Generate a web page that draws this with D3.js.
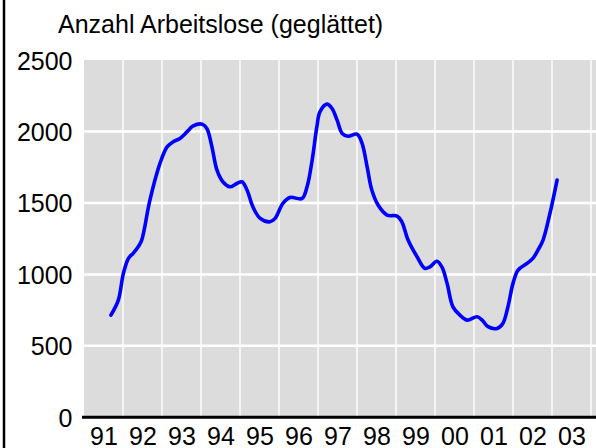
<!DOCTYPE html>
<html>
<head>
<meta charset="utf-8">
<script src="https://cdn.jsdelivr.net/npm/d3@7"></script>
<style>
  html, body { margin: 0; padding: 0; background: #fff; }
  svg { display: block; font-family: "Liberation Sans", Arial, sans-serif; }
</style>
</head>
<body>
<svg id="chart" width="596" height="448"></svg>
<script>
// ---- data ----
const title = "Anzahl Arbeitslose (geglättet)";
const yearLabels = ["91","92","93","94","95","96","97","98","99","00","01","02","03"];
const yearStarts = [1991,1992,1993,1994,1995,1996,1997,1998,1999,2000,2001,2002,2003];
const yTicks = [0, 500, 1000, 1500, 2000, 2500];
const times = [
  1991.69, 1991.88, 1992.01, 1992.14, 1992.26, 1992.39, 1992.48, 1992.69, 1992.95,
  1993.13, 1993.28, 1993.46, 1993.64, 1993.79, 1994.03, 1994.15, 1994.28, 1994.41,
  1994.56, 1994.74, 1994.92, 1995.05, 1995.18, 1995.33, 1995.51, 1995.77, 1995.90,
  1996.10, 1996.28, 1996.59, 1996.72, 1996.85, 1996.97, 1997.05, 1997.23, 1997.36,
  1997.49, 1997.62, 1997.77, 1998.00, 1998.13, 1998.26, 1998.38, 1998.54, 1998.77,
  1999.03, 1999.15, 1999.31, 1999.54, 1999.74, 1999.87, 2000.05, 2000.18, 2000.31,
  2000.46, 2000.64, 2000.82, 2001.08, 2001.21, 2001.36, 2001.59, 2001.74, 2001.87,
  2002.00, 2002.13, 2002.36, 2002.51, 2002.64, 2002.77, 2002.95, 2003.13
];
const values = [
  715, 820, 1007, 1112, 1147, 1193, 1240, 1520, 1778,
  1892, 1927, 1951, 1997, 2037, 2051, 2021, 1892, 1729,
  1648, 1613, 1636, 1648, 1590, 1473, 1394, 1368, 1392,
  1497, 1538, 1531, 1613, 1799, 2032, 2137, 2191, 2161,
  2079, 1986, 1967, 1981, 1916, 1752, 1590, 1485, 1415,
  1408, 1368, 1240, 1123, 1042, 1053, 1092, 1050, 937,
  773, 715, 680, 703, 680, 634, 622, 657, 773,
  937, 1030, 1077, 1112, 1170, 1240, 1430, 1660
];

// ---- layout ----
const svg = d3.select("#chart");
const pL = 84, pR = 591, pT = 60, pB = 417.3;
const x = d3.scaleLinear().domain([1991, 2004]).range([pL, pR]);
const y = d3.scaleLinear().domain([0, 2500]).range([pB, pT]);

// left frame line
svg.append("line").attr("x1", 4).attr("x2", 4).attr("y1", 0).attr("y2", 448)
  .attr("stroke", "#000").attr("stroke-width", 2.5);

// plot background (extends past window on the right)
svg.append("rect").attr("x", pL).attr("y", pT)
  .attr("width", 640 - pL).attr("height", pB - pT).attr("fill", "#dcdcdc");

// vertical grid
const vYears = d3.range(1992, 2006);
svg.append("g").selectAll("line").data(vYears).join("line")
  .attr("x1", d => x(d)).attr("x2", d => x(d))
  .attr("y1", pT).attr("y2", pB)
  .attr("stroke", "#fff").attr("stroke-width", 1.4);

// horizontal grid
svg.append("g").selectAll("line").data(yTicks.filter(v => v > 0 && v < 2500)).join("line")
  .attr("x1", pL).attr("x2", 640)
  .attr("y1", d => y(d)).attr("y2", d => y(d))
  .attr("stroke", "#fff").attr("stroke-width", 2.5);

// data line
const line = d3.line().x((d, i) => x(times[i])).y(d => y(d)).curve(d3.curveCatmullRom.alpha(0.5));
svg.append("path").datum(values).attr("d", line)
  .attr("fill", "none").attr("stroke", "#0000ff").attr("stroke-width", 3.6)
  .attr("stroke-linejoin", "round").attr("stroke-linecap", "round");

// x axis baseline
svg.append("line").attr("x1", 82).attr("x2", 640).attr("y1", pB).attr("y2", pB)
  .attr("stroke", "#000").attr("stroke-width", 3);

// y axis
const yAxis = d3.axisLeft(y).tickValues(yTicks).tickSize(0).tickPadding(11.5).tickFormat(d3.format("d"));
const gy = svg.append("g").attr("transform", `translate(${pL},0)`).call(yAxis);
gy.select(".domain").remove();
gy.selectAll("text").attr("font-size", 25).attr("font-family", "Liberation Sans, Arial, sans-serif")
  .attr("fill", "#000").attr("dy", "0.36em");

// x axis
const xAxis = d3.axisBottom(x).tickValues(yearStarts.map(v => v + 0.5)).tickSize(0).tickPadding(10)
  .tickFormat((d, i) => yearLabels[i]);
const gx = svg.append("g").attr("transform", `translate(0,${pB})`).call(xAxis);
gx.select(".domain").remove();
gx.selectAll("text").attr("font-size", 25).attr("font-family", "Liberation Sans, Arial, sans-serif")
  .attr("fill", "#000");

// title
svg.append("text").attr("x", 58).attr("y", 32.5).attr("font-size", 25)
  .attr("fill", "#000").text(title);
</script>
</body>
</html>
